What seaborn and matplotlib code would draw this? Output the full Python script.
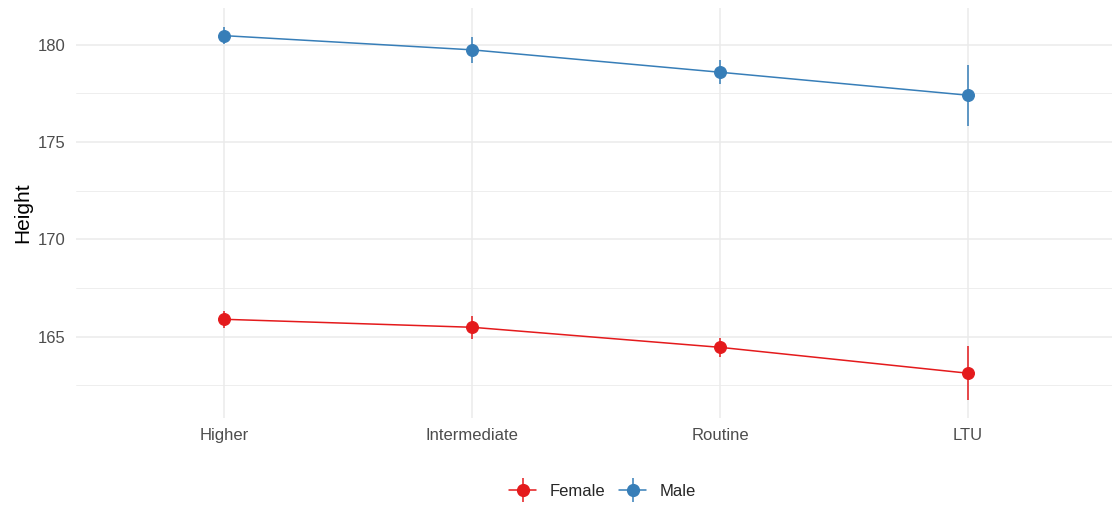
import numpy as np
import pandas as pd
import matplotlib
matplotlib.use("Agg")
import matplotlib.pyplot as plt
import seaborn as sns
from matplotlib.lines import Line2D
from matplotlib.legend_handler import HandlerTuple

# values
classes = ["Higher", "Intermediate", "Routine", "LTU"]
sexes = ["Female", "Male"]
female_height = [165.89, 165.48, 164.45, 163.12]
female_err = [0.43, 0.59, 0.49, 1.39]
male_height = [180.46, 179.73, 178.58, 177.40]
male_err = [0.45, 0.68, 0.62, 1.57]

colours = {"Female": "#E41A1C", "Male": "#377EB8"}

df = pd.DataFrame({
    "cls": classes * 2,
    "sex": ["Female"] * 4 + ["Male"] * 4,
    "height": female_height + male_height,
    "err": female_err + male_err,
})

sns.set_style("white")
plt.rcParams["font.family"] = ["Liberation Sans", "DejaVu Sans"]

fig = plt.figure(figsize=(11.12, 5.08), dpi=100)
ax = fig.add_axes([75.6 / 1112, 90 / 508, 1 - 75.6 / 1112, 410 / 508])

sns.pointplot(
    data=df, x="cls", y="height", hue="sex", order=classes, hue_order=sexes,
    palette=colours, errorbar=None, markers="o", linestyles="-",
    markersize=8.5, linewidth=1.1, ax=ax,
)
if ax.get_legend() is not None:
    ax.get_legend().remove()

pos = np.arange(len(classes))
for sex in sexes:
    sub = df[df["sex"] == sex]
    ax.errorbar(pos, sub["height"], yerr=sub["err"], fmt="none",
                ecolor=colours[sex], elinewidth=1.1, capsize=0, zorder=2)

ax.set_xlim(-0.6, (1112 - 224.3) / 247.9)
ax.set_ylim(160.82, 181.88)
ax.set_yticks([165, 170, 175, 180])
ax.set_yticks([162.5, 167.5, 172.5, 177.5], minor=True)

ax.grid(True, which="major", color="#EBEBEB", linewidth=1.1)
ax.grid(True, which="minor", axis="y", color="#EBEBEB", linewidth=0.6)
ax.set_axisbelow(True)
for s in ax.spines.values():
    s.set_visible(False)
ax.tick_params(axis="both", which="both", length=0, labelsize=12,
               labelcolor="#4D4D4D")
ax.tick_params(axis="y", pad=7.5)
ax.tick_params(axis="x", pad=7)

ax.set_xlabel("")
ax.set_ylabel("Height", fontsize=15, color="black", labelpad=4)

handles = []
for sex in sexes:
    pt = Line2D([], [], color=colours[sex], marker="o", markersize=8.5,
                linewidth=1.1)
    vb = Line2D([], [], color=colours[sex], marker="|", markersize=17,
                markeredgewidth=1.1, linestyle="none")
    handles.append((pt, vb))

fig.legend(handles, sexes, handler_map={tuple: HandlerTuple(ndivide=1)},
           loc="center", bbox_to_anchor=(602.5 / 1112, 1 - 491 / 508),
           ncol=2, frameon=False, fontsize=12, handlelength=1.6,
           handletextpad=0.8, columnspacing=0.85)

fig.savefig("out.png", dpi=100)
